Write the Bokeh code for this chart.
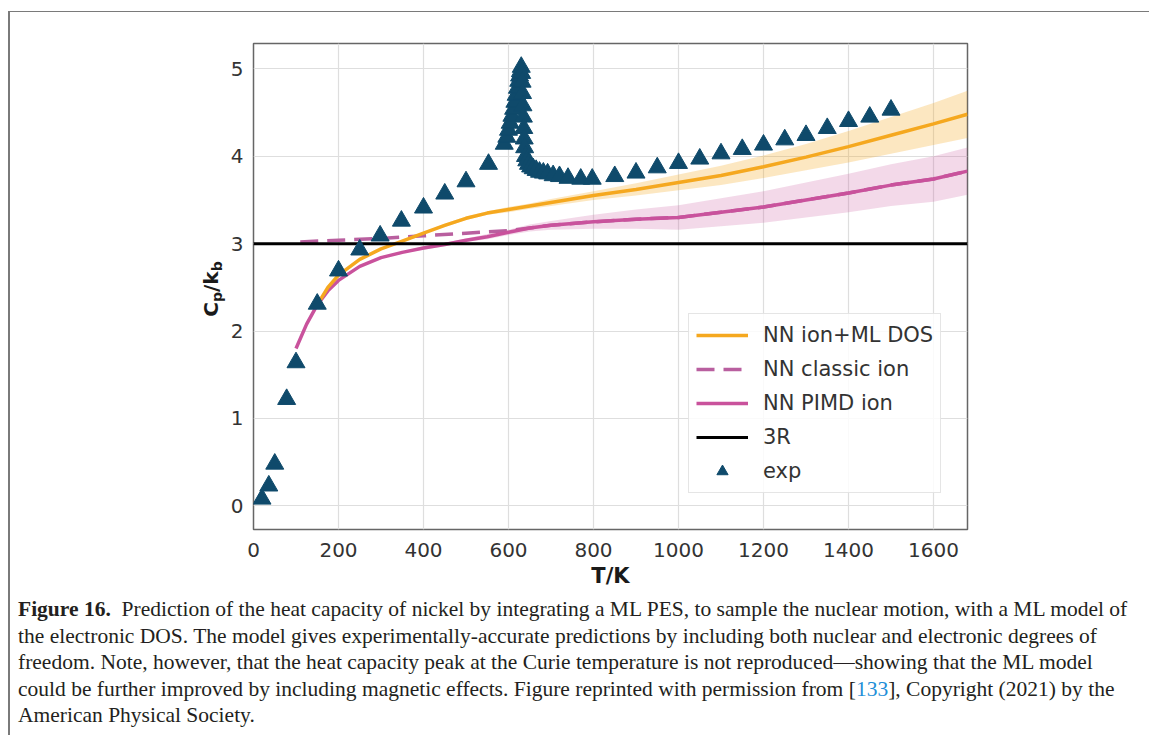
from bokeh.plotting import figure
from bokeh.models import Legend, LegendItem, FixedTicker, Div, Spacer
from bokeh.layouts import column, row
from bokeh.embed import file_html
from bokeh.resources import INLINE

# ---------------- data ----------------
X_TICKS = [0, 200, 400, 600, 800, 1000, 1200, 1400, 1600]
Y_TICKS = [0, 1, 2, 3, 4, 5]
X_RANGE = (0, 1680)
Y_RANGE = (-0.27, 5.29)

THREE_R = 3.0

T_EXP = [20, 36, 50, 78, 100, 150, 200, 250, 298, 348, 400, 450, 500, 553, 590,
         596, 600, 604, 608, 612, 615, 618, 621, 624, 626, 628, 630, 631, 632, 633,
         634, 635, 636, 637, 638, 640, 643, 647, 652, 658, 665, 673, 682, 692, 705,
         720, 740, 770, 797, 850, 900, 950, 1000, 1050, 1100, 1150, 1200, 1250, 1300,
         1350, 1400, 1450, 1500]
CP_EXP = [0.08, 0.23, 0.48, 1.22, 1.64, 2.31, 2.69, 2.93, 3.09, 3.26, 3.41, 3.57, 3.71, 3.91, 4.14,
          4.22, 4.30, 4.38, 4.46, 4.54, 4.62, 4.70, 4.78, 4.86, 4.92, 4.97, 5.02, 4.95, 4.85, 4.72,
          4.58, 4.45, 4.32, 4.20, 4.10, 4.00, 3.95, 3.91, 3.88, 3.86, 3.84, 3.82, 3.81, 3.80, 3.78,
          3.77, 3.75, 3.74, 3.74, 3.77, 3.81, 3.87, 3.92, 3.97, 4.03, 4.08, 4.13, 4.19, 4.24,
          4.32, 4.40, 4.45, 4.53]

T_ML = [150, 175, 200, 250, 300, 350, 400, 450, 500, 550, 600, 650, 700, 800, 900,
        1000, 1100, 1200, 1300, 1400, 1500, 1600, 1680]
CP_ML = [2.30, 2.50, 2.64, 2.82, 2.94, 3.03, 3.12, 3.21, 3.29, 3.35, 3.39, 3.43, 3.47, 3.55, 3.62,
         3.70, 3.78, 3.88, 3.99, 4.11, 4.24, 4.37, 4.48]
ERR_ML = [0.01, 0.01, 0.01, 0.01, 0.01, 0.01, 0.01, 0.02, 0.02, 0.02, 0.03, 0.03, 0.04, 0.05, 0.07,
          0.09, 0.11, 0.13, 0.15, 0.18, 0.21, 0.24, 0.27]

T_PIMD = [100, 125, 150, 175, 200, 250, 300, 350, 400, 450, 500, 550, 600, 650, 700, 800, 900,
          1000, 1100, 1200, 1300, 1400, 1500, 1600, 1680]
CP_PIMD = [1.80, 2.08, 2.30, 2.46, 2.58, 2.74, 2.84, 2.90, 2.95, 2.99, 3.04, 3.08, 3.13, 3.18, 3.21,
           3.25, 3.28, 3.30, 3.36, 3.42, 3.50, 3.58, 3.67, 3.74, 3.83]
ERR_PIMD = [0.01, 0.01, 0.01, 0.01, 0.01, 0.01, 0.01, 0.01, 0.02, 0.02, 0.02, 0.03, 0.03, 0.04, 0.05,
            0.08, 0.11, 0.14, 0.16, 0.18, 0.20, 0.22, 0.24, 0.26, 0.27]

T_CLASSIC = [110, 200, 300, 400, 500, 600, 650, 700, 800, 900, 1000, 1100, 1200, 1300, 1400,
             1500, 1600, 1680]
CP_CLASSIC = [3.02, 3.04, 3.06, 3.09, 3.12, 3.15, 3.18, 3.21, 3.25, 3.28, 3.30, 3.36, 3.42, 3.50, 3.58,
              3.67, 3.74, 3.83]

LABELS = ["NN ion+ML DOS", "NN classic ion", "NN PIMD ion", "3R", "exp"]
X_LABEL = "T/K"
Y_LABEL_HTML = "C<span class='sb'>p</span>/k<span class='sb'>b</span>"

CAPTION_LINES = [
    "<b>Figure 16.</b>&nbsp; Prediction of the heat capacity of nickel by integrating a ML PES, to sample the nuclear motion, with a ML model of",
    "the electronic DOS. The model gives experimentally-accurate predictions by including both nuclear and electronic degrees of",
    "freedom. Note, however, that the heat capacity peak at the Curie temperature is not reproduced\u2014showing that the ML model",
    "could be further improved by including magnetic effects. Figure reprinted with permission from [<span style=\"color:#1f8fd8\">133</span>], Copyright (2021) by the",
    "American Physical Society.",
]

# ---------------- styles ----------------
ORANGE = "#f5a81f"
MAGENTA = "#c9529c"
DASHED = "#b95f9f"
EXPC = "#0f4a6b"
TEXTC = "#333333"
BORDERC = "#7a7a7a"

# layout geometry (page pixels)
LEFT_PAD, TOP_PAD = 8, 11            # position of the border lines
PAGE_X0, PAGE_Y0 = 10, 12            # content origin after border lines
YLAB_W = 215                         # width of the div holding the y label
FIG_X0 = PAGE_X0 + YLAB_W
FIG_W, FIG_H = 1131 - YLAB_W, 583
FRAME_L, FRAME_R, FRAME_T, FRAME_B = 253, 967, 43, 529
CAP_H = 140

p = figure(width=FIG_W, height=FIG_H, x_range=X_RANGE, y_range=Y_RANGE,
           output_backend="svg", toolbar_location=None,
           min_border_left=FRAME_L - FIG_X0,
           min_border_right=FIG_W - (FRAME_R - FIG_X0),
           min_border_top=FRAME_T - PAGE_Y0,
           min_border_bottom=FIG_H - (FRAME_B - PAGE_Y0),
           margin=0)
p.background_fill_color = "white"
p.border_fill_color = "white"
p.outline_line_color = "#666666"
p.outline_line_width = 1.5

for ax in (p.xaxis, p.yaxis):
    ax.axis_line_color = None
    ax.major_tick_line_color = None
    ax.minor_tick_line_color = None
    ax.major_label_text_font = "DejaVu Sans"
    ax.major_label_text_font_size = "20px"
    ax.major_label_text_color = TEXTC
p.xaxis.ticker = FixedTicker(ticks=X_TICKS)
p.yaxis.ticker = FixedTicker(ticks=Y_TICKS)
p.xaxis.major_label_standoff = 7
p.yaxis.major_label_standoff = 4
p.xaxis.axis_label = X_LABEL
p.xaxis.axis_label_text_font = "DejaVu Sans"
p.xaxis.axis_label_text_font_style = "bold"
p.xaxis.axis_label_text_font_size = "21px"
p.xaxis.axis_label_text_color = "#1a1a1a"
p.xaxis.axis_label_standoff = 4

p.grid.grid_line_color = "#dedede"
p.grid.grid_line_width = 1.2

# bands
p.varea(x=T_ML, y1=[v - e for v, e in zip(CP_ML, ERR_ML)], y2=[v + e for v, e in zip(CP_ML, ERR_ML)],
        fill_color=ORANGE, fill_alpha=0.28)
p.varea(x=T_PIMD, y1=[v - e for v, e in zip(CP_PIMD, ERR_PIMD)], y2=[v + e for v, e in zip(CP_PIMD, ERR_PIMD)],
        fill_color=MAGENTA, fill_alpha=0.22)

r_classic = p.line(T_CLASSIC, CP_CLASSIC, line_color=DASHED, line_width=3.5, line_dash="18 9")
r_pimd = p.line(T_PIMD, CP_PIMD, line_color=MAGENTA, line_width=3.5)
r_ml = p.line(T_ML, CP_ML, line_color=ORANGE, line_width=3.5)
r_3r = p.line(list(X_RANGE), [THREE_R, THREE_R], line_color="black", line_width=3)
r_exp = p.scatter(T_EXP, CP_EXP, marker="triangle", size=18, fill_color=EXPC, line_color=EXPC)

legend = Legend(items=[LegendItem(label=LABELS[0], renderers=[r_ml]),
                       LegendItem(label=LABELS[1], renderers=[r_classic]),
                       LegendItem(label=LABELS[2], renderers=[r_pimd]),
                       LegendItem(label=LABELS[3], renderers=[r_3r]),
                       LegendItem(label=LABELS[4], renderers=[r_exp])],
                location=(435, 36), margin=0, padding=7, spacing=6,
                glyph_width=52, glyph_height=28, label_height=28, label_standoff=15,
                label_text_font="DejaVu Sans", label_text_font_size="21px",
                label_text_color=TEXTC, label_text_baseline="middle",
                border_line_color="#cccccc", border_line_width=1,
                background_fill_color="white", background_fill_alpha=0.85)
p.add_layout(legend)

# y-axis label (rotated html text, Cp/kb with subscripts)
ylab_cx = 212 - PAGE_X0
ylab_cy = (FRAME_T + FRAME_B) / 2 - PAGE_Y0 + 3
ylabel_html = (
    f'<div style="position:relative; width:{YLAB_W}px; height:{FIG_H}px;">'
    f'<div style="position:absolute; left:{ylab_cx}px; top:{ylab_cy}px; '
    'transform:translate(-50%,-50%) rotate(-90deg); white-space:nowrap; '
    "font-family:'DejaVu Sans'; font-weight:bold; font-size:20px; color:#1a1a1a; line-height:24px;\">"
    '<style>.sb{font-size:14px; position:relative; top:4px;}</style>'
    + Y_LABEL_HTML + '</div></div>')
ylabel_div = Div(text=ylabel_html, width=YLAB_W, height=FIG_H, margin=0)

caption_html = ('<div style="font-family:\'Liberation Serif\', serif; font-size:21.5px; line-height:26.5px; '
                'color:#231f20; padding-left:8px; padding-top:1px; white-space:nowrap;">'
                + "<br>".join(CAPTION_LINES) + "</div>")
caption = Div(text=caption_html, width=1131, height=CAP_H, margin=0)

top_line = Div(text="", width=1141, height=1, margin=0, styles={"background-color": BORDERC})
left_line = Div(text="", width=PAGE_X0 - LEFT_PAD, height=FIG_H + CAP_H, margin=0,
                styles={"background-color": BORDERC})

layout = column(
    Spacer(height=TOP_PAD, width=1141, margin=0),
    row(Spacer(width=LEFT_PAD, height=1, margin=0), top_line, margin=0),
    row(Spacer(width=LEFT_PAD, height=FIG_H + CAP_H, margin=0), left_line,
        column(row(ylabel_div, p, margin=0), caption, margin=0), margin=0),
    margin=0)

open("out.html", "w").write(file_html(layout, INLINE))
